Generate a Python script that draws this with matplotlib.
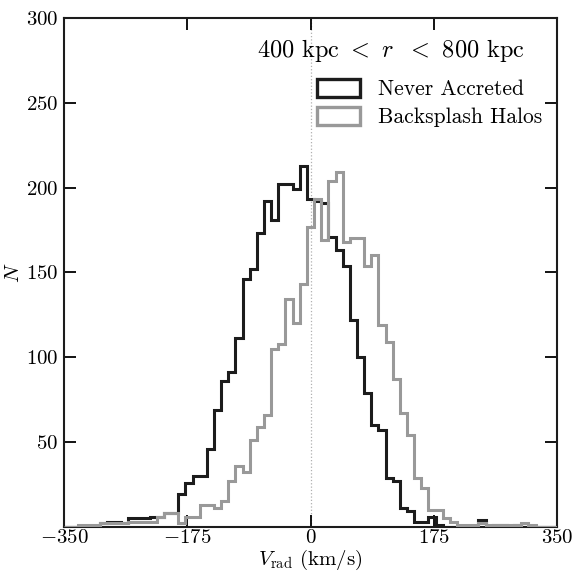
import numpy as np
import matplotlib
matplotlib.use("Agg")
import matplotlib.pyplot as plt
from matplotlib.patches import Patch

plt.rcParams["font.family"] = "serif"
plt.rcParams["font.serif"] = ["cmr10"]
plt.rcParams["mathtext.fontset"] = "cm"
plt.rcParams["axes.formatter.use_mathtext"] = True

# histogram bins: 69 bins between -350 and 350 km/s
bin_edges = np.linspace(-350, 350, 70)

never_accreted = [
    0, 0, 0, 0, 0, 2, 3, 3, 2, 5,
    5, 5, 6, 6, 8, 8, 19, 26, 30, 30,
    46, 69, 86, 91, 111, 146, 152, 173, 192, 181,
    202, 202, 199, 213, 193, 192, 191, 171, 163, 154,
    122, 100, 79, 60, 57, 29, 27, 11, 9, 3,
    3, 6, 1, 0, 0, 0, 0, 0, 4, 0,
    1, 1, 0, 1, 0, 0, 0, 0, 0,
]
backsplash = [
    0, 0, 1, 1, 1, 2, 2, 2, 2, 3,
    3, 3, 3, 6, 8, 8, 2, 6, 6, 13,
    13, 11, 15, 27, 36, 32, 51, 59, 66, 105,
    108, 134, 120, 143, 177, 193, 169, 204, 209, 168,
    170, 170, 154, 160, 119, 109, 87, 67, 54, 29,
    23, 10, 10, 5, 3, 1, 1, 1, 2, 1,
    1, 1, 1, 1, 2, 1, 0, 0, 0,
]

black = "#1c1c1c"
gray = "#999999"

fig = plt.figure(figsize=(5.74, 5.73), dpi=100)
ax = fig.add_axes([0.1115, 0.0808, 0.8589, 0.8878])

ax.axvline(0, color="#b0b0b0", lw=0.9, ls=":", zorder=1)
ax.stairs(never_accreted, bin_edges, color=black, lw=2.2, zorder=2)
ax.stairs(backsplash, bin_edges, color=gray, lw=2.2, zorder=3)

ax.set_xlim(-350, 350)
ax.set_ylim(0, 300)
ax.set_xticks([-350, -175, 0, 175, 350])
ax.set_yticks([50, 100, 150, 200, 250, 300])
ax.tick_params(direction="in", length=8.5, width=1.3, top=True, right=True,
               labelsize=15)
ax.tick_params(axis="x", pad=2)
ax.tick_params(axis="y", pad=4)
for s in ax.spines.values():
    s.set_linewidth(1.5)
    s.set_color("#1c1c1c")

ax.set_xlabel(r"$V_{\rm rad}$ (km/s)", fontsize=15, labelpad=0)
ax.set_ylabel(r"$N$", fontsize=15, labelpad=2)

ax.text(0.935, 0.937, r"400 kpc $<\ r\ \ <$ 800 kpc", transform=ax.transAxes,
        ha="right", va="center", fontsize=17.5)

handles = [Patch(facecolor="none", edgecolor=black, lw=2.4, label="Never Accreted"),
           Patch(facecolor="none", edgecolor=gray, lw=2.4, label="Backsplash Halos")]
ax.legend(handles=handles, loc="upper right", bbox_to_anchor=(1.0, 0.91),
          frameon=False, fontsize=15.5, handlelength=2.0, handleheight=0.9,
          handletextpad=0.8, labelspacing=0.35, borderaxespad=0.3)

fig.savefig("out.png", dpi=100)
